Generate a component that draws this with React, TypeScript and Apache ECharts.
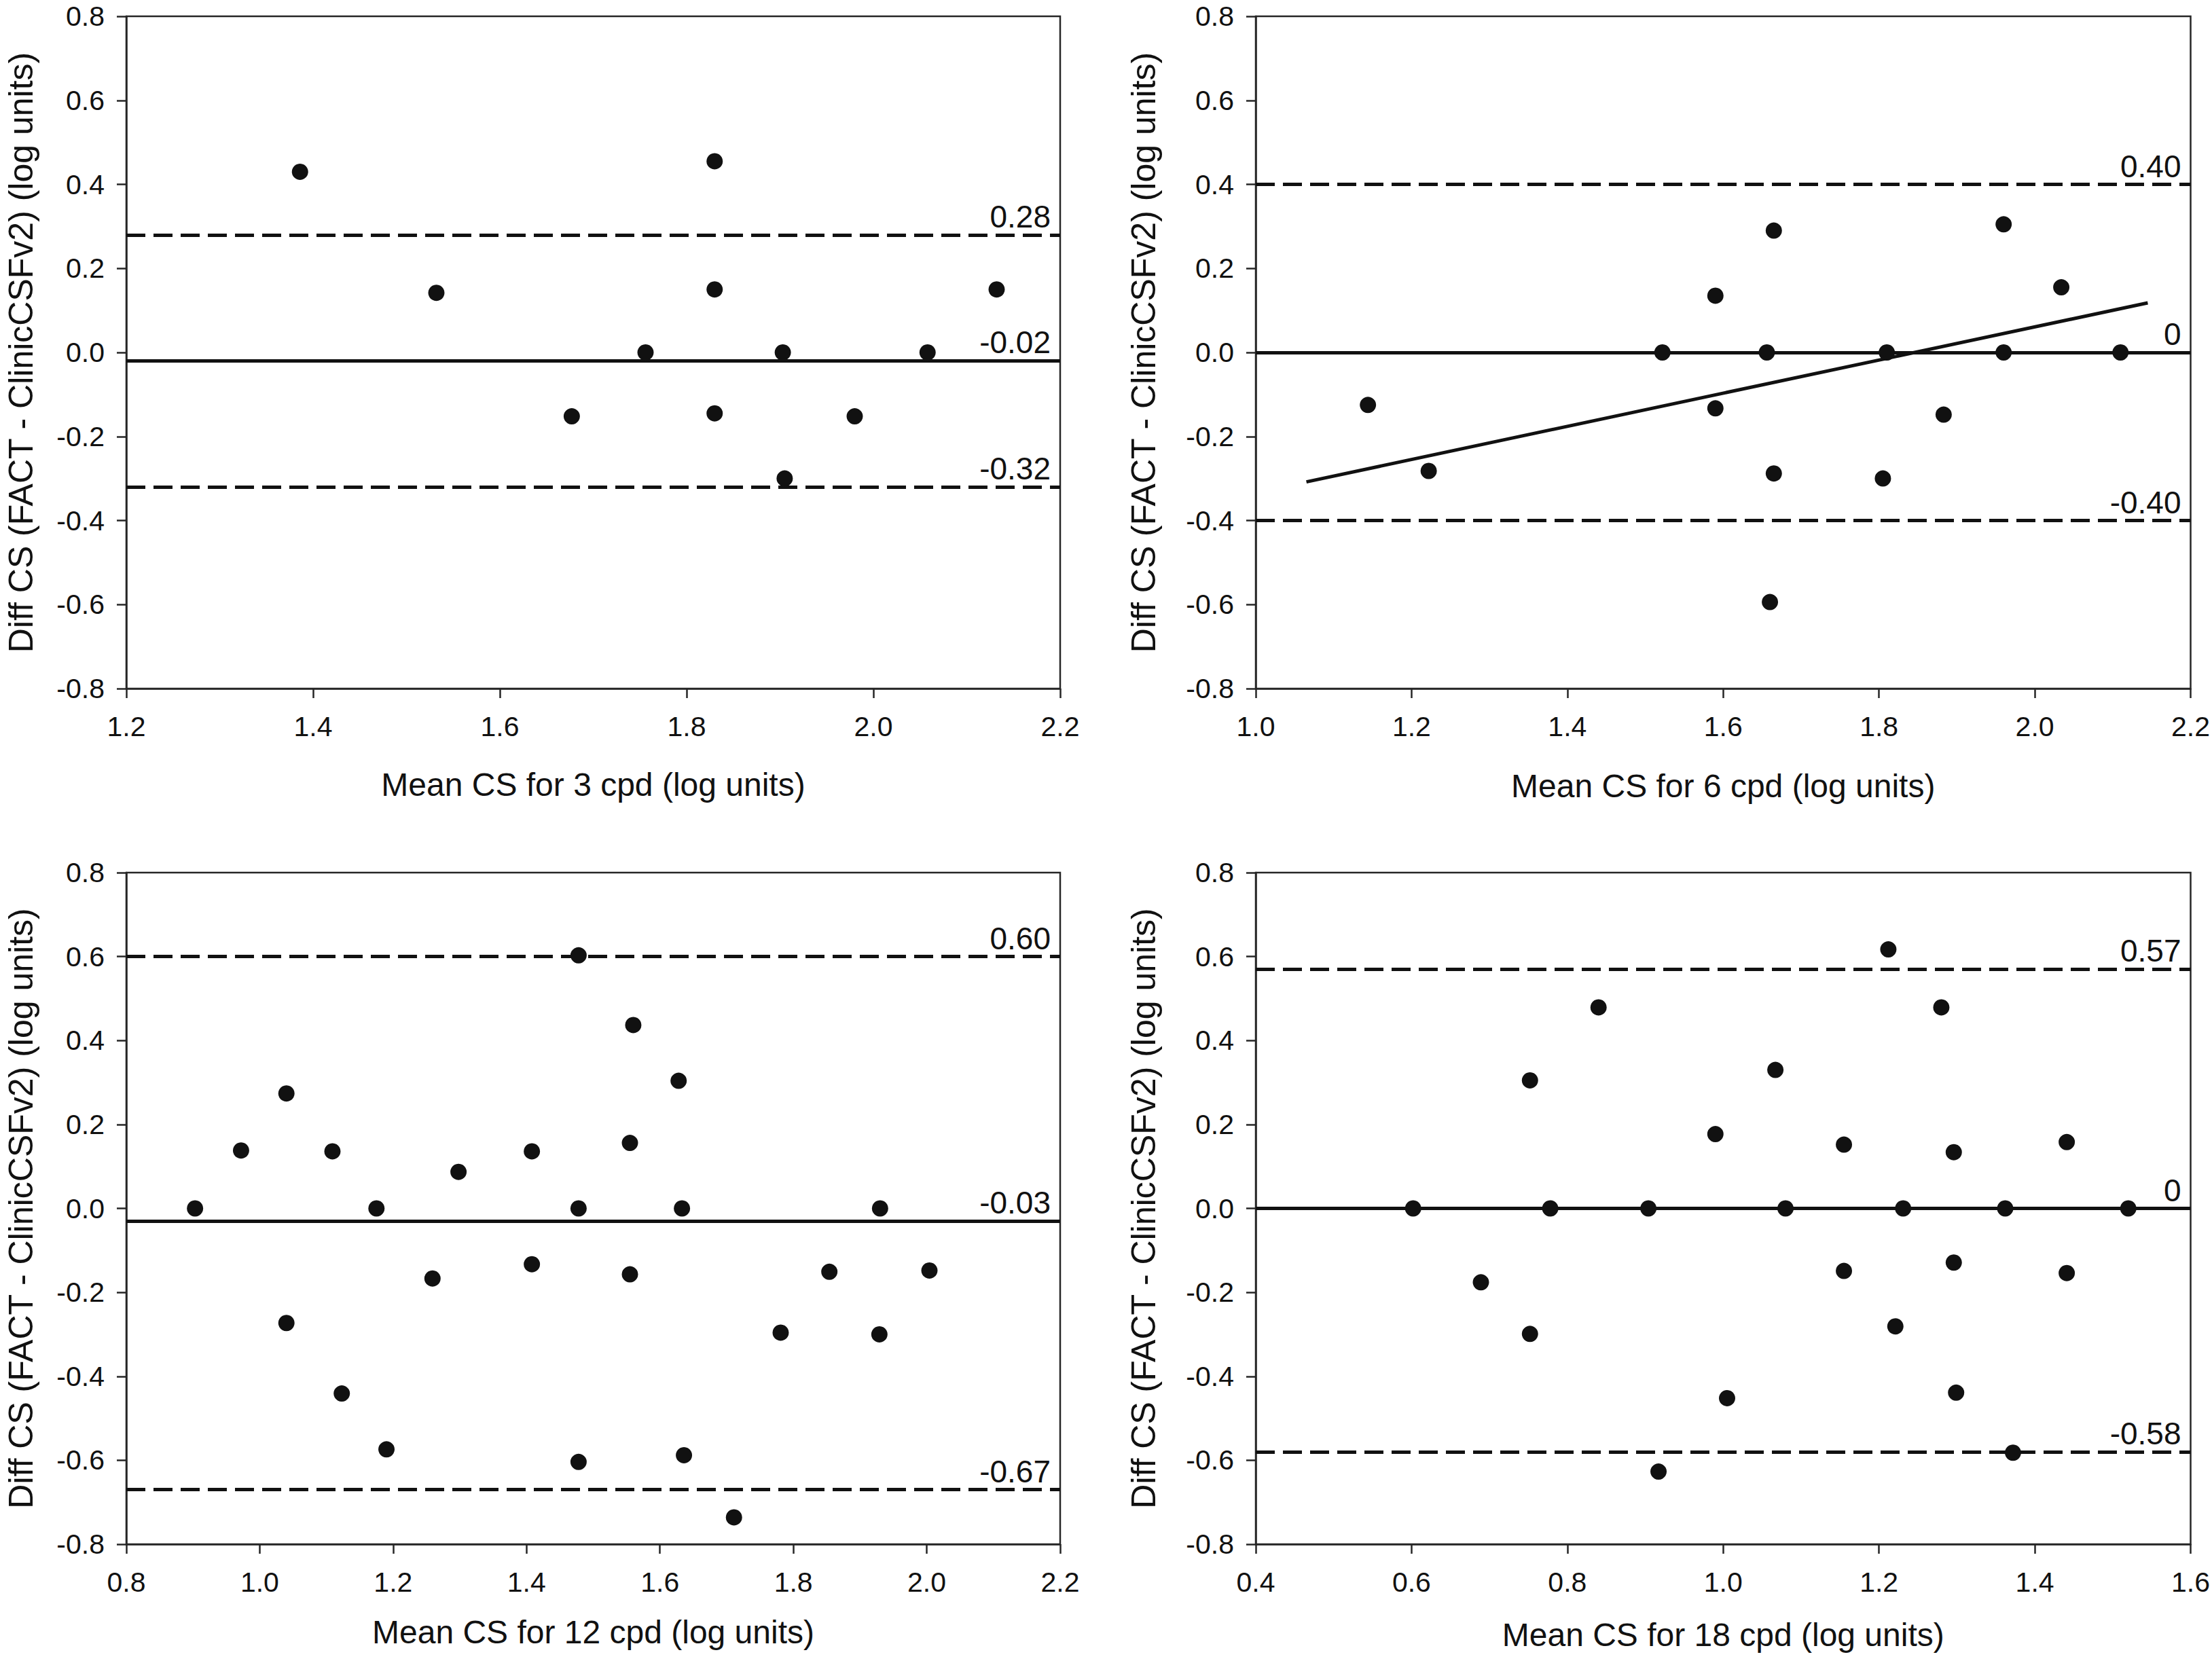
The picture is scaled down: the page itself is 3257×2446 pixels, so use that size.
import React, { useEffect, useRef } from "react";
import * as echarts from "echarts";

// ---------- DATA ----------
const xTitles = [
  "Mean CS for 3 cpd (log units)",
  "Mean CS for 6 cpd (log units)",
  "Mean CS for 12 cpd (log units)",
  "Mean CS for 18 cpd (log units)",
];
const yTitle = "Diff CS (FACT - ClinicCSFv2) (log units)";
const xRanges = [
  [1.2, 2.2],
  [1.0, 2.2],
  [0.8, 2.2],
  [0.4, 1.6],
];
const yRange = [-0.8, 0.8];

const p3x = [1.386, 1.532, 1.677, 1.756, 1.83, 1.83, 1.83, 1.903, 1.905, 1.98, 2.058, 2.132];
const p3y = [0.43, 0.142, -0.152, 0.0, 0.455, 0.15, -0.145, 0.0, -0.3, -0.152, 0.0, 0.15];

const p6x = [1.144, 1.222, 1.522, 1.59, 1.59, 1.656, 1.665, 1.665, 1.66, 1.81, 1.805, 1.883, 1.96, 1.96, 2.034, 2.11];
const p6y = [-0.125, -0.282, 0.0, 0.135, -0.133, 0.0, 0.29, -0.288, -0.594, 0.0, -0.3, -0.148, 0.305, 0.0, 0.155, 0.0];
const fit6x = [1.065, 2.145];
const fit6y = [-0.308, 0.118];

const p12x = [0.903, 0.972, 1.04, 1.04, 1.109, 1.123, 1.175, 1.19, 1.259, 1.298, 1.408, 1.408, 1.478, 1.478, 1.478, 1.555, 1.555, 1.56, 1.628, 1.633, 1.636, 1.711, 1.781, 1.854, 1.929, 1.93, 2.004];
const p12y = [0.0, 0.138, 0.274, -0.273, 0.136, -0.441, 0.0, -0.574, -0.167, 0.087, 0.136, -0.133, 0.603, 0.0, -0.604, 0.156, -0.157, 0.437, 0.304, 0.0, -0.588, -0.736, -0.296, -0.151, -0.3, 0.0, -0.148];

const p18x = [0.602, 0.689, 0.752, 0.752, 0.778, 0.84, 0.904, 0.917, 0.99, 1.005, 1.067, 1.08, 1.155, 1.155, 1.212, 1.221, 1.231, 1.28, 1.296, 1.296, 1.299, 1.362, 1.372, 1.441, 1.441, 1.52];
const p18y = [0.0, -0.176, 0.305, -0.299, 0.0, 0.479, 0.0, -0.627, 0.177, -0.452, 0.33, 0.0, 0.152, -0.149, 0.617, -0.281, 0.0, 0.479, 0.134, -0.129, -0.439, 0.0, -0.582, 0.158, -0.154, 0.0];

const upperLoA = [0.28, 0.4, 0.6, 0.57];
const meanDiff = [-0.02, 0, -0.03, 0];
const lowerLoA = [-0.32, -0.4, -0.67, -0.58];
const upperLbl = ["0.28", "0.40", "0.60", "0.57"];
const meanLbl = ["-0.02", "0", "-0.03", "0"];
const lowerLbl = ["-0.32", "-0.40", "-0.67", "-0.58"];

const pointsX = [p3x, p6x, p12x, p18x];
const pointsY = [p3y, p6y, p12y, p18y];

// ---------- LAYOUT ----------
const grids = [
  { left: 186, top: 24, width: 1375, height: 990 },
  { left: 1849, top: 24, width: 1377, height: 990 },
  { left: 186, top: 1285, width: 1375, height: 989 },
  { left: 1849, top: 1285, width: 1377, height: 989 },
];
const yNameGaps = [130, 140, 130, 140];
const xNameGaps = [117, 119, 105, 109];

const FONT = "'Liberation Sans', Arial, Helvetica, sans-serif";
const INK = "#111111";
const AX = "#262626";

export default function App() {
  const ref = useRef<HTMLDivElement>(null);

  useEffect(() => {
    if (!ref.current) return;
    const chart = echarts.init(ref.current, undefined, { renderer: "svg" });

    const lbl = (text: string) => ({
      show: true,
      formatter: text,
      position: "insideEndTop",
      distance: [14, 4],
      color: INK,
      fontSize: 46,
      fontFamily: FONT,
    });

    const series: any[] = [];
    for (let i = 0; i < 4; i++) {
      series.push({
        type: "scatter",
        xAxisIndex: i,
        yAxisIndex: i,
        symbol: "circle",
        symbolSize: 24,
        itemStyle: { color: INK, opacity: 1 },
        data: pointsX[i].map((x, k) => [x, pointsY[i][k]]),
        z: 5,
        markLine: {
          silent: true,
          symbol: "none",
          animation: false,
          data: [
            {
              yAxis: upperLoA[i],
              lineStyle: { type: [28, 12], width: 5, color: INK },
              label: lbl(upperLbl[i]),
            },
            {
              yAxis: meanDiff[i],
              lineStyle: { type: "solid", width: 5, color: INK },
              label: lbl(meanLbl[i]),
            },
            {
              yAxis: lowerLoA[i],
              lineStyle: { type: [28, 12], width: 5, color: INK },
              label: lbl(lowerLbl[i]),
            },
          ],
        },
      });
    }
    series.push({
      type: "line",
      xAxisIndex: 1,
      yAxisIndex: 1,
      symbol: "none",
      lineStyle: { width: 5, color: INK },
      data: fit6x.map((x, k) => [x, fit6y[k]]),
      z: 4,
    });

    const option: any = {
      animation: false,
      backgroundColor: "#ffffff",
      grid: grids.map((g) => ({
        ...g,
        show: true,
        borderColor: AX,
        borderWidth: 2.5,
        backgroundColor: "transparent",
      })),
      xAxis: xRanges.map((r, i) => ({
        type: "value",
        gridIndex: i,
        min: r[0],
        max: r[1],
        interval: 0.2,
        name: xTitles[i],
        nameLocation: "middle",
        nameGap: xNameGaps[i],
        nameTextStyle: { fontSize: 48, color: INK, fontFamily: FONT },
        splitLine: { show: false },
        axisLine: { show: true, onZero: false, lineStyle: { color: AX, width: 2.5 } },
        axisTick: { show: true, inside: false, length: 14, lineStyle: { color: AX, width: 2.5 } },
        axisLabel: {
          margin: 35,
          fontSize: 41,
          color: INK,
          fontFamily: FONT,
          formatter: (v: number) => v.toFixed(1),
        },
      })),
      yAxis: grids.map((_, i) => ({
        type: "value",
        gridIndex: i,
        min: yRange[0],
        max: yRange[1],
        interval: 0.2,
        name: yTitle,
        nameLocation: "middle",
        nameGap: yNameGaps[i],
        nameTextStyle: { fontSize: 50, color: INK, fontFamily: FONT },
        splitLine: { show: false },
        axisLine: { show: true, onZero: false, lineStyle: { color: AX, width: 2.5 } },
        axisTick: { show: true, inside: false, length: 14, lineStyle: { color: AX, width: 2.5 } },
        axisLabel: {
          margin: 32,
          fontSize: 41,
          color: INK,
          fontFamily: FONT,
          formatter: (v: number) => v.toFixed(1),
        },
      })),
      series,
    };

    chart.setOption(option);
    return () => chart.dispose();
  }, []);

  return (
    <div
      ref={ref}
      style={{ position: "absolute", left: 0, top: 0, width: 3257, height: 2446 }}
    />
  );
}
